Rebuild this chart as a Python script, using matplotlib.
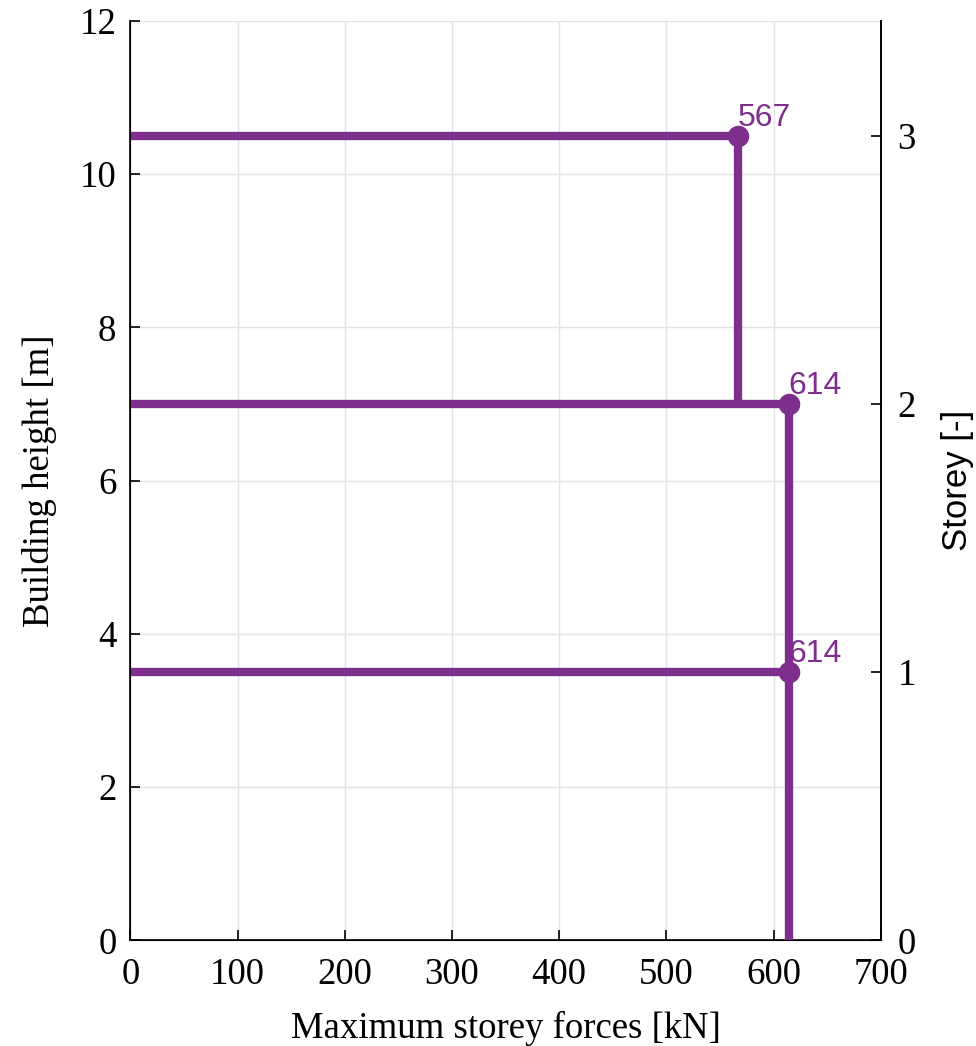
import matplotlib
matplotlib.use("Agg")
import matplotlib.pyplot as plt
import numpy as np

# storey data
storeys = [1, 2, 3]
heights = [3.5, 7.0, 10.5]     # building height of each storey [m]
forces = [614, 614, 567]       # maximum storey force [kN]
storeyHeight = 3.5

purple = '#7E2F8E'
plt.rcParams['font.family'] = ['Liberation Serif', 'DejaVu Serif']

fig = plt.figure(figsize=(9.76, 10.46), dpi=100)
ax = fig.add_axes([0.1335, 0.101, 0.769, 0.879])

# horizontal lines from the axis out to each storey force
for h, f in zip(heights, forces):
    ax.plot([0, f], [h, h], color=purple, linewidth=6, solid_capstyle='butt', zorder=3)

# vertical steps down to the storey below
below = [0.0] + heights[:-1]
for h, lo, f in zip(heights, below, forces):
    ax.plot([f, f], [lo, h], color=purple, linewidth=6, solid_capstyle='butt', zorder=3)

ax.plot(forces, heights, 'o', color=purple, markersize=14.5, zorder=4)
for h, f in zip(heights, forces):
    ax.text(f, h + 0.04, f"{f}", color=purple, fontsize=23, family='Liberation Sans',
            ha='left', va='bottom', zorder=5)

ax.set_xlim(0, 700)
ax.set_ylim(0, 12)
ax.set_xticks(np.arange(0, 701, 100))
ax.set_yticks(np.arange(0, 13, 2))
ax.grid(True, color='#e3e3e3', linewidth=1.0)
ax.set_axisbelow(True)
ax.tick_params(direction='in', labelsize=26.5, length=7, width=1.2, top=False)
ax.tick_params(axis='x', pad=12)
ax.tick_params(axis='y', pad=10)
ax.spines['top'].set_visible(False)
for s in ['left', 'bottom', 'right']:
    ax.spines[s].set_linewidth(1.2)
ax.set_xlabel("Maximum storey forces [kN]", fontsize=26.5, labelpad=14)
ax.set_ylabel("Building height [m]", fontsize=26.5, labelpad=16)

ax2 = ax.twinx()
ax2.set_ylim(0, 12 / storeyHeight)
ax2.set_yticks([0] + storeys)
ax2.tick_params(direction='in', labelsize=26.5, length=7, width=1.2, pad=12)
ax2.spines['top'].set_visible(False)
ax2.spines['right'].set_linewidth(1.2)
ax2.set_ylabel("Storey [-]", fontsize=25, family='Liberation Sans', labelpad=18)

fig.savefig("out.png", dpi=100, facecolor='white')
